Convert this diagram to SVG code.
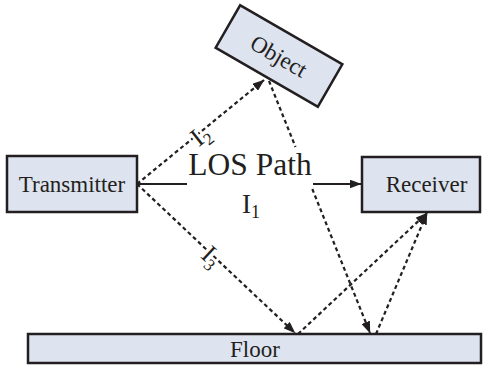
<svg xmlns="http://www.w3.org/2000/svg" width="488" height="368" viewBox="0 0 488 368">
  <style>
    .box { fill: #dee3f0; stroke: #231f20; stroke-width: 2.5; }
    .lbl { font-family: "Liberation Serif", "Times New Roman", serif; fill: #231f20; }
    .solid { fill: none; stroke: #231f20; stroke-width: 2.2; }
    .dash { fill: none; stroke: #231f20; stroke-width: 2.2; stroke-dasharray: 4 3; }
    .sym { font-family: "Liberation Serif", "Times New Roman", serif; fill: #231f20;
           stroke: #ffffff; stroke-width: 5; paint-order: stroke; stroke-linejoin: round; }
  </style>
  <defs>
    <marker id="arrow" markerUnits="userSpaceOnUse" viewBox="0 0 12 9" markerWidth="12" markerHeight="9" refX="11.5" refY="4.5" orient="auto">
      <path d="M0,0 L12,4.5 L0,9 Z" fill="#231f20"/>
    </marker>
  </defs>

  <rect width="488" height="368" fill="#ffffff"/>

  <!-- signal paths -->
  <g id="connectors">
    <path class="solid" d="M137,184 H187"/>
    <path class="solid" d="M313,184 H361" marker-end="url(#arrow)"/>
    <path class="dash" d="M137,184 L264,80" marker-end="url(#arrow)"/>
    <path class="dash" d="M137,184 L295,333" marker-end="url(#arrow)"/>
    <path class="dash" d="M269,81 L295.5,147"/>
    <path class="dash" d="M312.3,189 L370,333" marker-end="url(#arrow)"/>
    <path class="dash" d="M298,334 L427,213" marker-end="url(#arrow)"/>
    <path class="dash" d="M376,334 L427,213" marker-end="url(#arrow)"/>
    <circle cx="137" cy="184" r="2.2" fill="#231f20"/>
  </g>

  <g id="transmitter">
    <rect class="box" x="7" y="156" width="130" height="56"/>
    <text class="lbl" x="72" y="192" font-size="23" text-anchor="middle">Transmitter</text>
  </g>

  <g id="receiver">
    <rect class="box" x="362" y="157" width="118" height="55"/>
    <text class="lbl" x="426.5" y="192" font-size="23" text-anchor="middle">Receiver</text>
  </g>

  <g id="object" transform="translate(279,56) rotate(30)">
    <rect class="box" x="-59" y="-24.5" width="118" height="49"/>
    <text class="lbl" x="0" y="8" font-size="23" text-anchor="middle">Object</text>
  </g>

  <g id="floor">
    <rect class="box" x="28" y="334" width="453" height="29"/>
    <text class="lbl" x="255" y="357" font-size="23" text-anchor="middle">Floor</text>
  </g>

  <!-- path labels -->
  <g id="labels">
    <text class="lbl" x="250" y="175" font-size="31.5" text-anchor="middle">LOS Path</text>
    <text class="lbl" x="242" y="213" font-size="27">I<tspan font-size="18" dy="5">1</tspan></text>
    <text class="sym" transform="translate(200,135) rotate(-38)" x="-8.5" y="9" font-size="26">I<tspan font-size="17" dy="5">2</tspan></text>
    <text class="sym" transform="translate(212,256) rotate(43)" x="-8.5" y="9" font-size="26">I<tspan font-size="17" dy="5">3</tspan></text>
  </g>
</svg>
